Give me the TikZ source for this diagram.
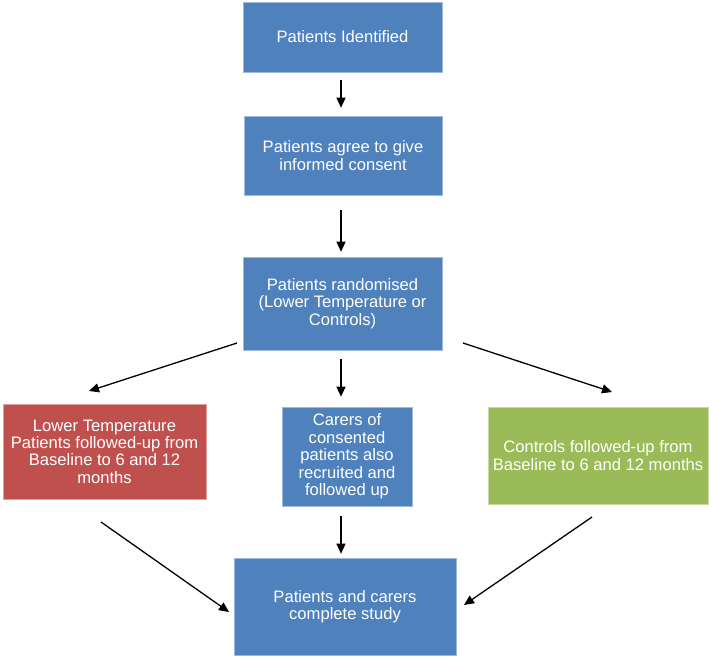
\documentclass[tikz,border=0pt]{standalone}
\usepackage{fontspec}
\setmainfont{Liberation Sans}
\usepackage{tikz}
\usetikzlibrary{positioning,arrows.meta}
\definecolor{stepblue}{RGB}{79,129,189}
\definecolor{armred}{RGB}{192,80,77}
\definecolor{armgreen}{RGB}{155,187,89}

\begin{document}
\begin{tikzpicture}[x=1pt, y=-1pt,
  box/.style={draw=stepblue!55!white, line width=0.6pt, fill=stepblue, text=white,
              inner sep=0pt, align=center, font=\fontsize{16.6}{17.4}\selectfont},
  redbox/.style={box, draw=armred!55!white, fill=armred},
  greenbox/.style={box, draw=armgreen!55!white, fill=armgreen},
  arr/.style={-{Triangle[length=10pt, width=9pt]}, line width=1.3pt}]
\useasboundingbox (0,0) rectangle (709,656);
% main column
\node[box, minimum width=199pt, minimum height=70pt] (ident) at (342.5,37) {Patients Identified};
\node[box, minimum width=198pt, minimum height=79pt] (consent) at (343,155.5) {Patients agree to give\\ informed consent};
\node[box, minimum width=199pt, minimum height=93pt] (random) at (342.5,303.5) {Patients randomised\\ (Lower Temperature or\\ Controls)};
% the three arms
\node[redbox, minimum width=203pt, minimum height=95pt] (lowtemp) at (104.5,451.5) {Lower Temperature\\ Patients followed-up from\\ Baseline to 6 and 12\\ months};
\node[box, minimum width=130pt, minimum height=99pt] (carers) at (347,456.5) {Carers of\\ consented\\ patients also\\ recruited and\\ followed up};
\node[greenbox, minimum width=220pt, minimum height=97pt] (controls) at (598,455.5) {Controls followed-up from\\ Baseline to 6 and 12 months};
\node[box, minimum width=222pt, minimum height=97pt] (complete) at (345,606.5) {Patients and carers\\ complete study};
% free arrow ends
\coordinate (randL) at (237,343);
\coordinate (lowtT) at (89,391);
\coordinate (randR) at (463,343);
\coordinate (ctrlT) at (612,392);
\coordinate (lowtB) at (101,522);
\coordinate (compL) at (229,612);
\coordinate (ctrlB) at (592,517);
\coordinate (compR) at (464,605);
\draw[arr, shorten <=8pt, shorten >=8pt] (ident.south -| 341,0) -- (consent.north -| 341,0);
\draw[arr, shorten <=15pt, shorten >=5pt] (consent.south -| 341,0) -- (random.north -| 341,0);
\draw[arr, shorten <=9pt, shorten >=10pt] (random.south -| 341,0) -- (carers.north -| 341,0);
\draw[arr, shorten <=10pt, shorten >=4pt] (carers.south -| 341,0) -- (complete.north -| 341,0);
\draw[arr] (randL) -- (lowtT);
\draw[arr] (randR) -- (ctrlT);
\draw[arr] (lowtB) -- (compL);
\draw[arr] (ctrlB) -- (compR);
\end{tikzpicture}
\end{document}
